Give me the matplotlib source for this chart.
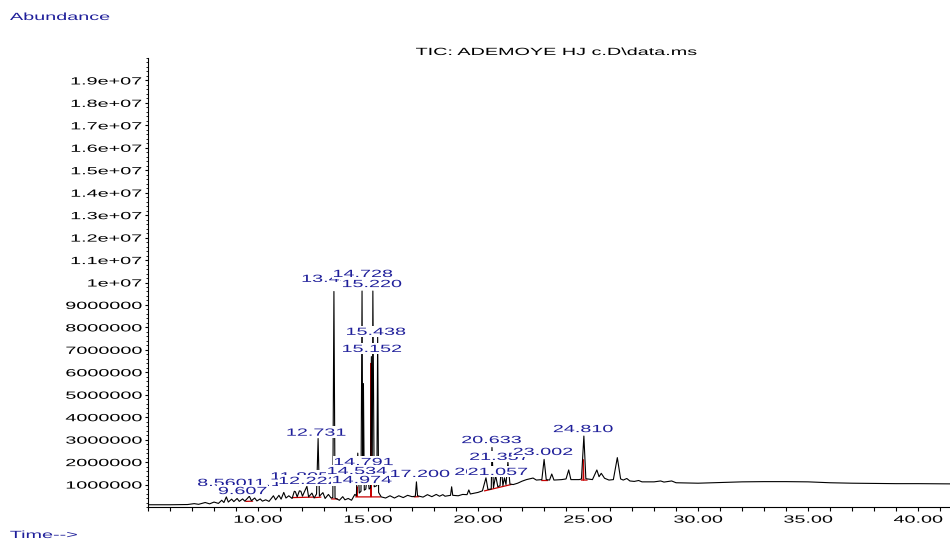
import numpy as np
import matplotlib
matplotlib.use("Agg")
import matplotlib.pyplot as plt
from matplotlib import patheffects as pe
from matplotlib.path import Path
from matplotlib.transforms import Affine2D, IdentityTransform
from matplotlib.ticker import MultipleLocator

plt.rcParams['font.family'] = ['Liberation Sans', 'DejaVu Sans']

BLUE = '#1f1f9a'
RED = '#c80000'
FS = 7.5      # font size (pt)
SX = 1.9      # the instrument printout uses wide text

### TIC trace: time (min), abundance (millions)
time_min = [5.00, 6.00, 6.80, 7.10, 7.30, 7.60, 7.80, 8.00, 8.20, 8.35, 8.45, 8.56, 8.65, 8.80, 8.90,
            9.05, 9.15, 9.30, 9.40, 9.607, 9.70, 9.85, 9.95, 10.10, 10.20, 10.35, 10.50, 10.70, 10.80,
            10.95, 11.05, 11.17, 11.27, 11.40, 11.55, 11.65, 11.70, 11.78, 11.88, 11.95, 12.02, 12.10,
            12.222, 12.30, 12.45, 12.55, 12.66, 12.731, 12.79, 12.95, 13.05, 13.20, 13.32, 13.40, 13.45,
            13.50, 13.70, 13.85, 13.95, 14.10, 14.25, 14.40, 14.47, 14.534, 14.60, 14.68, 14.728, 14.76,
            14.791, 14.83, 14.90, 14.974, 15.05, 15.11, 15.152, 15.19, 15.22, 15.28, 15.40, 15.438, 15.48,
            15.60, 15.80, 16.00, 16.20, 16.40, 16.60, 16.80, 17.00, 17.15, 17.20, 17.25, 17.50, 17.70,
            17.90, 18.10, 18.25, 18.40, 18.50, 18.75, 18.80, 18.85, 19.10, 19.30, 19.50, 19.58, 19.65,
            19.85, 20.00, 20.20, 20.36, 20.45, 20.60, 20.633, 20.70, 20.80, 20.90, 21.00, 21.057, 21.13,
            21.20, 21.27, 21.357, 21.45, 21.60, 21.80, 22.00, 22.20, 22.50, 22.65, 22.90, 23.002, 23.10,
            23.25, 23.35, 23.45, 23.80, 24.00, 24.12, 24.22, 24.60, 24.70, 24.81, 24.90, 25.20, 25.40,
            25.50, 25.60, 25.75, 25.95, 26.15, 26.33, 26.48, 26.60, 26.76, 26.90, 27.10, 27.30, 27.45,
            28.00, 28.30, 28.45, 28.80, 29.00, 30.00, 31.00, 32.00, 33.00, 34.00, 35.00, 36.00, 37.00,
            38.00, 39.00, 40.00, 41.45]
abund_m = [0.10, 0.10, 0.11, 0.15, 0.12, 0.20, 0.14, 0.22, 0.16, 0.30, 0.20, 0.45, 0.22, 0.35, 0.24,
           0.38, 0.25, 0.36, 0.26, 0.48, 0.28, 0.40, 0.27, 0.36, 0.26, 0.32, 0.25, 0.50, 0.32,
           0.52, 0.35, 0.65, 0.40, 0.50, 0.38, 0.70, 0.68, 0.45, 0.72, 0.70, 0.48, 0.66,
           0.92, 0.45, 0.62, 0.40, 0.58, 3.05, 0.48, 0.64, 0.38, 0.56, 0.40, 0.42, 9.60,
           0.40, 0.30, 0.46, 0.32, 0.38, 0.30, 0.56, 0.50, 2.40, 0.62, 0.70, 9.62, 1.50,
           5.50, 0.75, 0.80, 1.50, 0.80, 0.85, 6.70, 1.50, 9.62, 0.90, 0.95, 7.60, 0.65,
           0.45, 0.40, 0.50, 0.40, 0.50, 0.42, 0.52, 0.46, 0.48, 1.12, 0.50, 0.44, 0.55,
           0.46, 0.56, 0.48, 0.55, 0.48, 0.52, 0.90, 0.52, 0.50, 0.56, 0.55, 0.76, 0.58,
           0.62, 0.65, 0.72, 1.30, 0.78, 0.80, 2.65, 0.85, 1.40, 0.90, 0.95, 1.80, 0.95,
           1.30, 1.00, 2.00, 1.02, 1.00, 1.06, 1.15, 1.22, 1.29, 1.20, 1.22, 2.12, 1.22,
           1.20, 1.47, 1.20, 1.22, 1.25, 1.65, 1.22, 1.22, 1.25, 3.16, 1.26, 1.22, 1.65,
           1.35, 1.50, 1.28, 1.20, 1.22, 2.20, 1.25, 1.20, 1.27, 1.16, 1.14, 1.18, 1.12,
           1.12, 1.16, 1.11, 1.16, 1.08, 1.06, 1.09, 1.12, 1.13, 1.13, 1.12, 1.08, 1.06,
           1.05, 1.04, 1.04, 1.03]

### integration baselines / integrated peaks (red), nan = break
red_t = [9.45, 9.75, np.nan, 11.6, 12.5, np.nan, 12.6, 12.85, np.nan, 13.35, 13.6, np.nan,
         14.45, 14.48, 14.50, 14.52, 15.12, 15.135, 15.15, 15.55, np.nan, 17.1, 17.3, np.nan,
         20.3, 21.5, np.nan, 22.9, 23.15, np.nan, 24.7, 24.775, 24.79, 24.805, 24.95]
red_a = [0.25, 0.26, np.nan, 0.42, 0.44, np.nan, 0.42, 0.44, np.nan, 0.36, 0.36, np.nan,
         0.45, 0.45, 0.90, 0.45, 0.45, 6.40, 0.45, 0.45, np.nan, 0.45, 0.46, np.nan,
         0.72, 1.00, np.nan, 1.18, 1.18, np.nan, 1.20, 1.20, 2.10, 1.20, 1.20]

### peak labels (drawn in this order, later ones cover earlier)
lab_text = ['11.176', '13.451', '14.728', '15.220', '15.438', '15.152', '12.731', '11.805',
            '14.791', '14.534', '8.560', '9.607', '12.222', '14.974', '17.200',
            '20.633', '20.210', '21.357', '21.057', '23.002', '24.810']
lab_t = [10.75, 13.34, 14.77, 15.18, 15.36, 15.18, 12.65, 11.90,
         14.80, 14.50, 8.36, 9.30, 12.30, 14.73, 17.36,
         20.61, 20.30, 20.97, 20.90, 22.95, 24.78]
lab_a = [1.07, 10.16, 10.38, 9.93, 7.80, 7.04, 3.31, 1.36,
         2.00, 1.60, 1.07, 0.71, 1.16, 1.20, 1.47,
         2.98, 1.56, 2.23, 1.56, 2.45, 3.47]

xtick_vals = [10, 15, 20, 25, 30, 35, 40]
ytick_vals = [1e6 * k for k in range(1, 20)]
ytick_labels = ['1000000', '2000000', '3000000', '4000000', '5000000', '6000000', '7000000',
                '8000000', '9000000', '1e+07', '1.1e+07', '1.2e+07', '1.3e+07', '1.4e+07',
                '1.5e+07', '1.6e+07', '1.7e+07', '1.8e+07', '1.9e+07']


class Wide(pe.AbstractPathEffect):
    """draw text stretched horizontally, optionally on a white box"""
    def __init__(self, sx=SX, anchor='center', box=False):
        super().__init__()
        self.sx, self.anchor, self.box = sx, anchor, box

    def draw_path(self, renderer, gc, tpath, affine, rgbFace=None):
        bb = tpath.get_extents(affine)
        x0 = {'left': bb.x0, 'center': 0.5 * (bb.x0 + bb.x1), 'right': bb.x1}[self.anchor]
        aff = affine + Affine2D().translate(-x0, 0).scale(self.sx, 1).translate(x0, 0)
        if self.box:
            b = tpath.get_extents(aff)
            rect = Path([(b.x0 - 2, b.y0 - 2), (b.x1 + 2, b.y0 - 2), (b.x1 + 2, b.y1 + 2),
                         (b.x0 - 2, b.y1 + 2), (b.x0 - 2, b.y0 - 2)], closed=True)
            gc0 = renderer.new_gc()
            gc0.copy_properties(gc)
            gc0.set_linewidth(0)
            renderer.draw_path(gc0, rect, IdentityTransform(), (1, 1, 1))
            gc0.restore()
        renderer.draw_path(gc, tpath, aff, rgbFace)


fig = plt.figure(figsize=(9.5, 5.4), dpi=100)
ax = fig.add_axes([148 / 950, 33 / 540, 802 / 950, 449 / 540])

ax.plot(red_t, np.array(red_a) * 1e6, color=RED, lw=0.9, zorder=2)
ax.plot(time_min, np.array(abund_m) * 1e6, color='k', lw=0.8, zorder=3)

for s, t, a in zip(lab_text, lab_t, lab_a):
    ax.text(t, a * 1e6, s, ha='center', va='center', color=BLUE, fontsize=FS, zorder=5,
            path_effects=[Wide(box=True)])

ax.set_xlim(5.0, 41.45)
ax.set_ylim(0, 2.0e7)

for side in ['top', 'right']:
    ax.spines[side].set_visible(False)
for side in ['left', 'bottom']:
    ax.spines[side].set_linewidth(0.8)

ax.set_xticks(xtick_vals)
ax.set_xticklabels(['%.2f' % v for v in xtick_vals])
ax.xaxis.set_minor_locator(MultipleLocator(1))
ax.set_yticks(ytick_vals)
ax.set_yticklabels(ytick_labels)
ax.yaxis.set_minor_locator(MultipleLocator(2e5))
ax.tick_params(axis='x', which='both', direction='out', length=3, width=0.8, pad=2.5, labelsize=FS)
ax.tick_params(axis='y', which='major', direction='out', length=2.5, width=0.8, pad=2, labelsize=FS)
ax.tick_params(axis='y', which='minor', direction='out', length=1.3, width=0.6)

for lab in ax.get_xticklabels():
    lab.set_path_effects([Wide(anchor='center')])
for lab in ax.get_yticklabels():
    lab.set_path_effects([Wide(anchor='right')])

fig.text(556 / 950, 1 - 52 / 540, r'TIC: ADEMOYE HJ c.D\data.ms', ha='center', va='center',
         fontsize=FS, path_effects=[Wide(anchor='center')])
fig.text(10 / 950, 1 - 17 / 540, 'Abundance', ha='left', va='center', color=BLUE,
         fontsize=FS, path_effects=[Wide(anchor='left')])
fig.text(10 / 950, 1 - 535 / 540, 'Time-->', ha='left', va='center', color=BLUE,
         fontsize=FS, path_effects=[Wide(anchor='left')])

fig.savefig('out.png', dpi=100)
